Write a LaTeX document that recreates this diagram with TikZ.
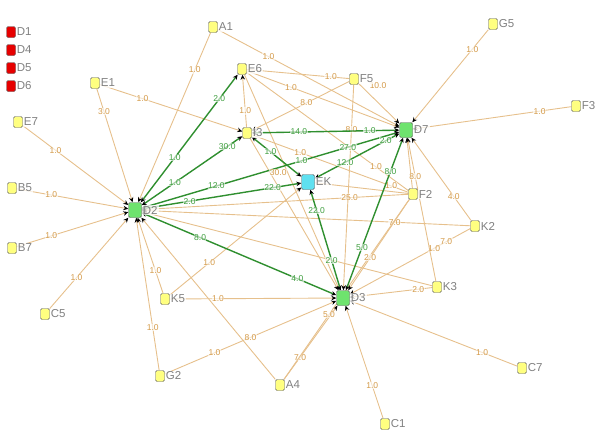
\documentclass[tikz,border=0pt]{standalone}
\usepackage{fontspec}
\setsansfont{Liberation Sans}
\usetikzlibrary{arrows.meta,backgrounds}
\definecolor{actyellow}{HTML}{FFFF80}
\definecolor{hubgreen}{HTML}{6EE36E}
\definecolor{ekcyan}{HTML}{5FE0F0}
\definecolor{actred}{HTML}{E60000}
\definecolor{tanline}{HTML}{E6C08C}
\definecolor{tantext}{HTML}{D49A48}
\definecolor{tieline}{HTML}{2F8F2F}
\definecolor{tietext}{HTML}{3E9E3E}

\begin{document}
\begin{tikzpicture}[x=1pt,y=-1pt]
	\tikzset{actor/.style={draw=gray!70!black,fill=actyellow,rounded corners=1.5pt,minimum width=9pt,minimum height=11pt,inner sep=0pt}}
	\tikzset{hub/.style={actor,fill=hubgreen,minimum width=13pt,minimum height=15pt}}
	\tikzset{namelbl/.style={font=\sffamily\fontsize{11.5}{11.5}\selectfont,text=gray,inner sep=1pt,fill=white,fill opacity=0.75,text opacity=1}}
	\tikzset{weak/.style={draw=tanline,line width=0.9pt}}
	\tikzset{weakto/.style={weak,-{Stealth[black,length=5pt,width=4.5pt]}}}
	\tikzset{strong/.style={draw=tieline,line width=1.4pt,{Stealth[black,length=5pt,width=4.5pt]}-{Stealth[black,length=5pt,width=4.5pt]}}}
	\tikzset{wlbl/.style={font=\sffamily\fontsize{8.5}{8.5}\selectfont,text=tantext,inner sep=0.5pt,fill=white,fill opacity=0.6,text opacity=1}}
	\tikzset{slbl/.style={wlbl,text=tietext}}
	\useasboundingbox (0,0) rectangle (600,442);
	% isolates
	\foreach \n/\y in {D1/32,D4/50,D5/68,D6/86}
		\node[actor,fill=actred,label={[namelbl]east:\n}] (\n) at (11,\y) {};
	% actors
	\foreach \n/\x/\y in {E1/95/83,E7/18/122,B5/12/188,B7/12/248,C5/45/314,A1/213/27,E6/242/69,F5/354/79,G5/493/24,F3/576/106,I3/247/133,F2/413/194,K2/475/226,K3/437/287,K5/165/299,G2/160/376,A4/280/385,C1/385/424,C7/522/368}
		\node[actor,label={[namelbl]east:\n}] (\n) at (\x,\y) {};
	\node[hub,label={[namelbl]east:D2}] (D2) at (135,210) {};
	\node[hub,label={[namelbl]east:D7}] (D7) at (406,130) {};
	\node[hub,label={[namelbl]east:D3}] (D3) at (343,298) {};
	\node[hub,fill=ekcyan,label={[namelbl]east:EK}] (EK) at (308,182) {};
	\begin{pgfonlayer}{background}
	% weak ties
	\draw[weakto] (E7) -- node[wlbl,pos=.31]{1.0} (D2);
	\draw[weakto] (B5) -- node[wlbl,pos=.31]{1.0} (D2);
	\draw[weakto] (B7) -- node[wlbl,pos=.31]{1.0} (D2);
	\draw[weakto] (C5) -- node[wlbl,pos=.34]{1.0} (D2);
	\draw[weakto] (E1) -- node[wlbl,pos=.2]{3.0} (D2);
	\draw[weakto] (A1) -- node[wlbl,pos=.22]{1.0} (D2);
	\draw[weakto] (K5) -- node[wlbl,pos=.3]{1.0} (D2);
	\draw[weakto] (G2) -- node[wlbl,pos=.28]{1.0} (D2);
	\draw[weakto] (A4) -- (D2);
	\draw[weakto] (K2) -- node[wlbl,pos=.23]{7.0} (D2);
	\draw[weakto] (K3) -- (D2);
	\draw[weakto] (F2) -- node[wlbl,pos=.22]{25.0} (D2);
	\draw[weakto] (E1) -- node[wlbl,pos=.3]{1.0} (I3);
	\draw[weakto] (A1) -- node[wlbl,pos=.28]{1.0} (D7);
	\draw[weakto] (G2) -- node[wlbl,pos=.29]{1.0} node[wlbl,pos=.5]{8.0} (D3);
	\draw[weakto] (K5) -- node[wlbl,pos=.29]{1.0} (D3);
	\draw[weakto] (A4) -- node[wlbl,pos=.3]{7.0} (D3);
	\draw[weak] (A4) -- node[wlbl,pos=.36]{5.0} (F2);
	\draw[weakto] (C1) -- node[wlbl,pos=.29]{1.0} (D3);
	\draw[weakto] (C7) -- node[wlbl,pos=.21]{1.0} (D3);
	\draw[weakto] (K2) -- node[wlbl,pos=.2]{7.0} node[wlbl,pos=.3]{1.0} (D3);
	\draw[weakto] (K3) -- node[wlbl,pos=.17]{2.0} (D3);
	\draw[weakto] (F2) -- node[wlbl,pos=.64]{2.0} (D3);
	\draw[weakto] (I3) -- (D3);
	\draw[weakto] (E6) -- (D3);
	\draw[weakto] (F5) -- node[wlbl,pos=.22]{8.0} (D3);
	\draw[weakto] (F5) -- node[wlbl,pos=.2,above right=2pt]{10.0} (D7);
	\draw[weakto] (F5) -- node[wlbl,pos=.44]{8.0} (I3);
	\draw[weak] (E6) -- node[wlbl,pos=.82]{1.0} (F5);
	\draw[weakto] (E6) -- node[wlbl,pos=.29]{1.0} (D7);
	\draw[weakto] (I3) -- node[wlbl,pos=.31]{1.0} (E6);
	\draw[weak] (E6) -- node[wlbl,pos=.8]{1.0} (F2);
	\draw[weak] (I3) -- node[wlbl,pos=.31]{1.0} node[wlbl,pos=.89]{1.0} (F2);
	\draw[weak] (EK) -- (F2);
	\draw[weakto] (K5) -- node[wlbl,pos=.3]{1.0} (EK);
	\draw[weakto] (G5) -- node[wlbl,pos=.21]{1.0} (D7);
	\draw[weakto] (F3) -- node[wlbl,pos=.2]{1.0} (D7);
	\draw[weakto] (K2) -- node[wlbl,pos=.29]{4.0} (D7);
	\draw[weakto] (F2) -- (D7);
	\draw[weakto] (K3) -- node[wlbl,pos=.73]{8.0} (D7);
	% strong ties
	\draw[strong] (D2) -- node[slbl,pos=.35]{1.0} node[slbl,pos=.81]{2.0} (E6);
	\draw[strong] (D2) -- node[slbl,pos=.33]{1.0} node[slbl,pos=.85]{30.0} (I3);
	\draw[strong] (D2) -- node[slbl,pos=.29]{12.0} node[wlbl,pos=.53,below=1pt]{30.0} node[slbl,pos=.62]{1.0} node[slbl,pos=.8]{27.0} (D7);
	\draw[strong] (D2) -- node[slbl,pos=.3]{2.0} node[slbl,pos=.82]{22.0} (EK);
	\draw[strong] (I3) -- node[slbl,pos=.32]{14.0} node[slbl,pos=.8]{1.0} (D7);
	\draw[strong] (I3) -- node[slbl,pos=.38]{1.0} (EK);
	\draw[strong] (EK) -- node[slbl,pos=.36]{12.0} node[slbl,pos=.84]{2.0} (D7);
	\draw[strong] (EK) -- node[slbl,pos=.21]{22.0} node[slbl,pos=.7]{2.0} (D3);
	\draw[strong] (D3) -- node[slbl,pos=.28]{5.0} node[slbl,pos=.78]{8.0} (D7);
	\draw[strong] (D2) -- node[slbl,pos=.3]{8.0} node[slbl,pos=.8]{4.0} (D3);
	\end{pgfonlayer}
\end{tikzpicture}
\end{document}
